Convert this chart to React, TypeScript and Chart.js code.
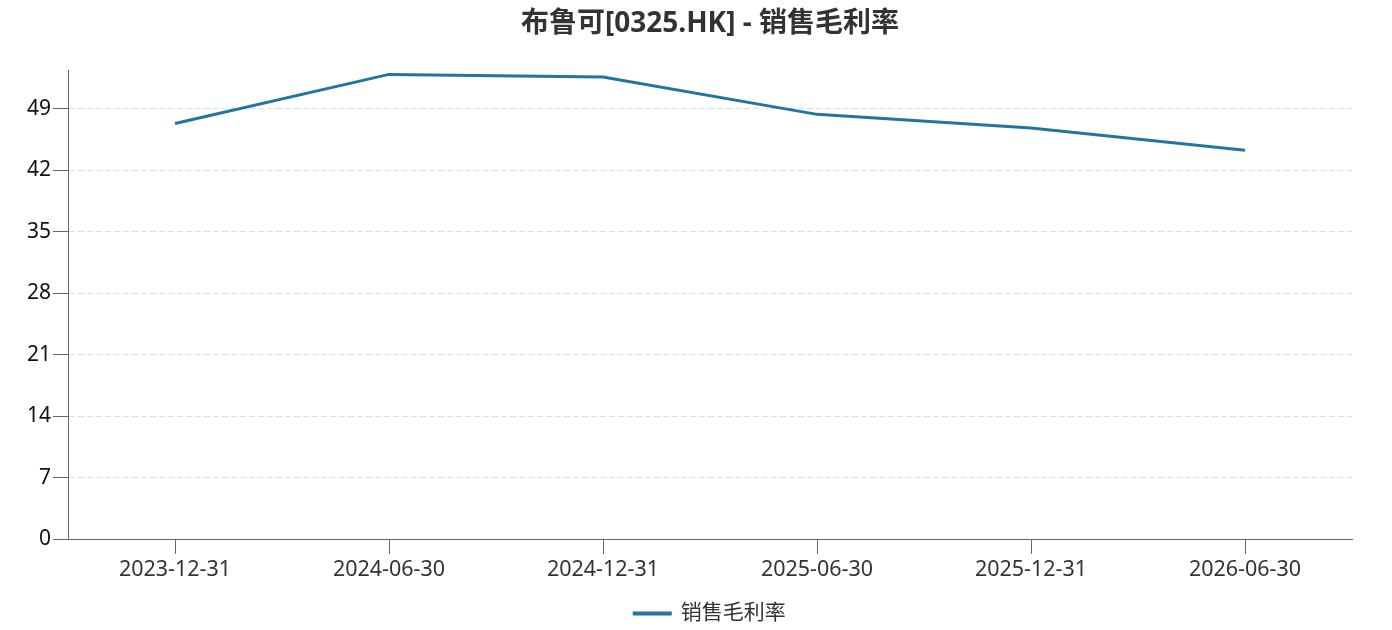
import Chart from 'chart.js/auto'
import { useEffect, useRef } from 'react'

const periods = ['2023-12-31', '2024-06-30', '2024-12-31', '2025-06-30', '2025-12-31', '2026-06-30']
const grossMargin = [47.3, 52.9, 52.6, 48.35, 46.8, 44.25]
const yTicks = [0, 7, 14, 21, 28, 35, 42, 49]

const FONT = '"Noto Sans", "Noto Sans CJK SC", sans-serif'
const LINE = '#21759f'
const AXIS = '#666666'

// title and legend are centred on the plot area, not on the whole canvas
const centerOnPlot = {
  id: 'centerOnPlot',
  afterLayout(chart: any) {
    const area = chart.chartArea
    const mid = (area.left + area.right) / 2
    for (const box of [chart.titleBlock, chart.legend]) {
      if (!box) continue
      const shift = mid - (box.left + box.right) / 2
      box.left += shift
      box.right += shift
    }
  },
}

const MarginChart = () => {
  const canvasRef = useRef<HTMLCanvasElement>(null)
  const chartRef = useRef<Chart | null>(null)

  useEffect(() => {
    if (canvasRef.current) {
      chartRef.current = new Chart(canvasRef.current, {
        type: 'line',
        data: {
          labels: periods,
          datasets: [
            {
              label: '销售毛利率',
              data: grossMargin,
              borderColor: LINE,
              backgroundColor: LINE,
              borderWidth: 3,
              pointRadius: 0,
              pointHoverRadius: 0,
              tension: 0,
            },
          ],
        },
        plugins: [centerOnPlot],
        options: {
          animation: false,
          responsive: true,
          maintainAspectRatio: false,
          // the legend box carries a fixed 10px of slack, let it hang past the bottom edge
          layout: { padding: { left: 0, right: 40, top: 0, bottom: -4 } },
          scales: {
            x: {
              offset: true,
              afterFit: (scale) => {
                scale.height = 62.5
              },
              grid: {
                drawOnChartArea: false,
                drawTicks: true,
                tickLength: 15,
                tickColor: AXIS,
              },
              border: { color: AXIS, width: 1 },
              ticks: {
                color: '#333333',
                padding: 3,
                font: { family: FONT, size: 21.5 },
                maxRotation: 0,
              },
            },
            y: {
              min: 0,
              max: 53.4,
              afterBuildTicks: (scale) => {
                scale.ticks = yTicks.map((v) => ({ value: v }))
              },
              afterFit: (scale) => {
                scale.width = 68
              },
              grid: {
                color: '#dedede',
                lineWidth: 1,
                tickLength: 15,
                tickColor: AXIS,
                tickBorderDash: [],
              },
              border: { color: AXIS, width: 1, dash: [6, 3] },
              ticks: {
                color: '#111111',
                padding: 2,
                font: { family: FONT, size: 21 },
              },
            },
          },
          plugins: {
            title: {
              display: true,
              text: '布鲁可[0325.HK] - 销售毛利率',
              color: '#333333',
              font: { family: FONT, size: 28, weight: 'bold' },
              padding: { top: 7.2, bottom: 29.2 },
            },
            legend: {
              position: 'bottom',
              labels: {
                color: '#333333',
                font: { family: FONT, size: 21 },
                boxWidth: 36,
                boxHeight: 1,
                padding: 1.5,
              },
            },
            tooltip: { enabled: false },
          },
        },
      })
    }
    return () => {
      if (chartRef.current) {
        chartRef.current.destroy()
      }
    }
  }, [])

  return (
    <div style={{ position: 'fixed', left: 0, top: 0, width: 1392, height: 630, background: '#ffffff' }}>
      <canvas ref={canvasRef}></canvas>
    </div>
  )
}

export default function App() {
  return <MarginChart />
}
